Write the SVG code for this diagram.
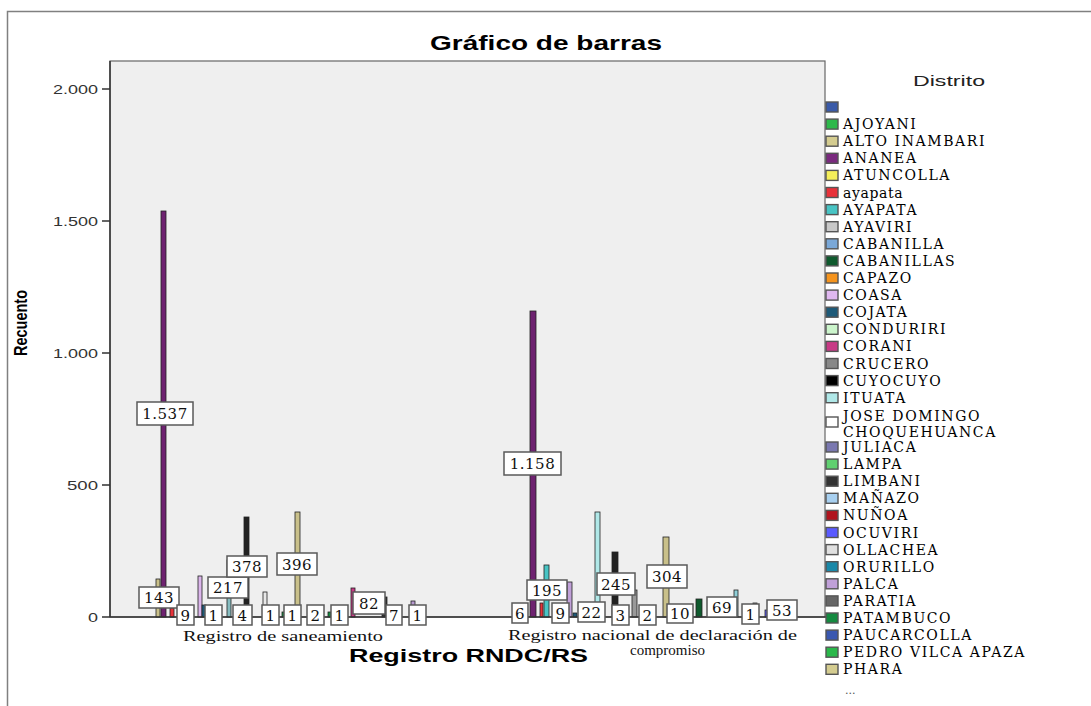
<svg xmlns="http://www.w3.org/2000/svg" width="1091" height="706" viewBox="0 0 1091 706">
<style>
.ttl{font-family:"Liberation Sans",Arial,sans-serif;font-weight:bold;fill:#000}
.tick{font-family:"Liberation Sans",Arial,sans-serif;font-size:13px;fill:#333}
.cat{font-family:"Liberation Serif","Times New Roman",serif;font-size:14px;fill:#111}
.lg{font-family:"DejaVu Serif","Liberation Serif",serif;font-size:14px;fill:#000;letter-spacing:1.6px}
.bar{stroke:#222;stroke-width:0.8}
.sw{stroke:#555;stroke-width:1.4}
.lb rect{fill:#fff;stroke:#5a5a5a;stroke-width:1.5}
.lb text{font-family:"DejaVu Serif","Liberation Serif",serif;font-size:15px;fill:#111;text-anchor:middle;letter-spacing:0.5px}
</style>
<rect x="0" y="0" width="1091" height="706" fill="#fff"/>
<path d="M7.5 706 V11.5 H1091" fill="none" stroke="#808080" stroke-width="1.5"/>
<g id="title"><text class="ttl" x="430" y="50" font-size="21" textLength="232" lengthAdjust="spacingAndGlyphs">Gráfico de barras</text></g>
<g id="plot">
<rect x="110" y="61" width="715" height="556" fill="#efefef" stroke="#666" stroke-width="1.2"/>
</g>
<g id="yaxis">
<line x1="110" y1="61" x2="110" y2="617" stroke="#333" stroke-width="1.5"/>
<path d="M102 89H110M102 221H110M102 353H110M102 485H110M102 617H110" stroke="#333" stroke-width="1.5"/>
<text class="tick" x="53" y="94" textLength="45" lengthAdjust="spacingAndGlyphs">2.000</text>
<text class="tick" x="53" y="226" textLength="45" lengthAdjust="spacingAndGlyphs">1.500</text>
<text class="tick" x="53" y="358" textLength="45" lengthAdjust="spacingAndGlyphs">1.000</text>
<text class="tick" x="67" y="490" textLength="31" lengthAdjust="spacingAndGlyphs">500</text>
<text class="tick" x="88" y="622" textLength="10" lengthAdjust="spacingAndGlyphs">0</text>
<text class="ttl" font-size="18" text-anchor="middle" textLength="66" lengthAdjust="spacingAndGlyphs" transform="translate(27,323) rotate(-90)">Recuento</text>
</g>
<g id="bars-saneamiento">
<rect class="bar" x="156" y="579" width="4" height="38" fill="#c9c08a"/>
<rect class="bar" x="161" y="211" width="5" height="406" fill="#6e2270"/>
<rect class="bar" x="170" y="608" width="4" height="9" fill="#e8323a"/>
<rect class="bar" x="198" y="576" width="4" height="41" fill="#dcb6ec"/>
<rect class="bar" x="202" y="605" width="4" height="12" fill="#1e5a78"/>
<rect class="bar" x="227" y="560" width="4" height="57" fill="#86bcc0"/>
<rect class="bar" x="244" y="517" width="5" height="100" fill="#222"/>
<rect class="bar" x="263" y="592" width="4" height="25" fill="#e8e8e8"/>
<rect class="bar" x="282" y="612" width="3" height="5" fill="#158a40"/>
<rect class="bar" x="295" y="512" width="5" height="105" fill="#c9c08a"/>
<rect class="bar" x="328" y="612" width="3" height="5" fill="#158a40"/>
<rect class="bar" x="351" y="588" width="4" height="29" fill="#c83a86"/>
<rect class="bar" x="382" y="597" width="5" height="20" fill="#333"/>
<rect class="bar" x="411" y="601" width="4" height="16" fill="#b89ad0"/>
</g>
<g id="bars-rndc">
<rect class="bar" x="530" y="311" width="6" height="306" fill="#6e2270"/>
<rect class="bar" x="540" y="603" width="3" height="14" fill="#e8323a"/>
<rect class="bar" x="544" y="565" width="5" height="52" fill="#48c4c4"/>
<rect class="bar" x="567" y="582" width="5" height="35" fill="#c0a0d8"/>
<rect class="bar" x="573" y="613" width="4" height="4" fill="#1e5a78"/>
<rect class="bar" x="595" y="512" width="5" height="105" fill="#b0e8e8"/>
<rect class="bar" x="612" y="552" width="6" height="65" fill="#222"/>
<rect class="bar" x="632" y="590" width="5" height="27" fill="#999"/>
<rect class="bar" x="663" y="537" width="6" height="80" fill="#c9c08a"/>
<rect class="bar" x="696" y="599" width="6" height="18" fill="#0f5a2e"/>
<rect class="bar" x="734" y="590" width="4" height="27" fill="#8fcfd8"/>
<rect class="bar" x="753" y="603" width="4" height="14" fill="#555"/>
<rect class="bar" x="765" y="610" width="3" height="7" fill="#5a5aff"/>
</g>
<g id="xaxis">
<line x1="110" y1="617" x2="826" y2="617" stroke="#333" stroke-width="1.5"/>
<text class="cat" x="183" y="641" textLength="200" lengthAdjust="spacingAndGlyphs">Registro de saneamiento</text>
<text class="cat" x="508" y="640" textLength="289" lengthAdjust="spacingAndGlyphs">Registro nacional de declaración de</text>
<text class="cat" x="630" y="655" textLength="75" lengthAdjust="spacingAndGlyphs">compromiso</text>
<text class="ttl" x="349" y="662" font-size="19" textLength="239" lengthAdjust="spacingAndGlyphs">Registro RNDC/RS</text>
</g>
<g id="labels" class="lb">
<rect x="137" y="402" width="56" height="23"/><text x="165" y="419">1.537</text>
<rect x="139" y="587" width="40" height="21"/><text x="159" y="603">143</text>
<rect x="177" y="605" width="17" height="20"/><text x="185.5" y="620.5">9</text>
<rect x="205" y="605" width="17" height="20"/><text x="213.5" y="620.5">1</text>
<rect x="208" y="577" width="40" height="21"/><text x="228" y="593">217</text>
<rect x="233" y="605" width="19" height="20"/><text x="242.5" y="620.5">4</text>
<rect x="227" y="556" width="40" height="21"/><text x="247" y="572">378</text>
<rect x="262" y="605" width="17" height="20"/><text x="270.5" y="620.5">1</text>
<rect x="277" y="553" width="40" height="22"/><text x="297" y="569.5">396</text>
<rect x="284" y="605" width="17" height="20"/><text x="292.5" y="620.5">1</text>
<rect x="307" y="605" width="17" height="20"/><text x="315.5" y="620.5">2</text>
<rect x="331" y="605" width="17" height="20"/><text x="339.5" y="620.5">1</text>
<rect x="353" y="592" width="32" height="22"/><text x="369" y="608.5">82</text>
<rect x="386" y="605" width="16" height="20"/><text x="394" y="620.5">7</text>
<rect x="409" y="605" width="17" height="20"/><text x="417.5" y="620.5">1</text>
<rect x="504" y="452" width="57" height="23"/><text x="532.5" y="469">1.158</text>
<rect x="512" y="603" width="16" height="20"/><text x="520" y="618.5">6</text>
<rect x="527" y="580" width="40" height="20"/><text x="547" y="595.5">195</text>
<rect x="552" y="603" width="17" height="20"/><text x="560.5" y="618.5">9</text>
<rect x="578" y="602" width="27" height="20"/><text x="591.5" y="617.5">22</text>
<rect x="597" y="573" width="38" height="22"/><text x="616" y="589.5">245</text>
<rect x="612" y="605" width="17" height="20"/><text x="620.5" y="620.5">3</text>
<rect x="639" y="605" width="17" height="20"/><text x="647.5" y="620.5">2</text>
<rect x="647" y="565" width="40" height="23"/><text x="667" y="582">304</text>
<rect x="667" y="604" width="26" height="19"/><text x="680" y="619">10</text>
<rect x="707" y="597" width="30" height="20"/><text x="722" y="612.5">69</text>
<rect x="742" y="604" width="17" height="20"/><text x="750.5" y="619.5">1</text>
<rect x="767" y="600" width="30" height="20"/><text x="782" y="615.5">53</text>
</g>
<g id="legend">
<text x="913" y="86" font-family="Liberation Sans, Arial, sans-serif" font-size="15" fill="#222" textLength="72" lengthAdjust="spacingAndGlyphs">Distrito</text>
<g id="lg0"><rect class="sw" x="826" y="102" width="12" height="10" fill="#3a5aa8"/></g>
<g id="lg1"><rect class="sw" x="826" y="119.1" width="12" height="10" fill="#2db84a"/><text class="lg" x="843" y="129.1">AJOYANI</text></g>
<g id="lg2"><rect class="sw" x="826" y="136.2" width="12" height="10" fill="#d4cc90"/><text class="lg" x="843" y="146.2">ALTO INAMBARI</text></g>
<g id="lg3"><rect class="sw" x="826" y="153.3" width="12" height="10" fill="#7a2a7e"/><text class="lg" x="843" y="163.3">ANANEA</text></g>
<g id="lg4"><rect class="sw" x="826" y="170.4" width="12" height="10" fill="#f5ef5a"/><text class="lg" x="843" y="180.4">ATUNCOLLA</text></g>
<g id="lg5"><rect class="sw" x="826" y="187.5" width="12" height="10" fill="#e8323a"/><text class="lg" x="843" y="197.5" style="letter-spacing:0.6px">ayapata</text></g>
<g id="lg6"><rect class="sw" x="826" y="204.6" width="12" height="10" fill="#48c4c4"/><text class="lg" x="843" y="214.6">AYAPATA</text></g>
<g id="lg7"><rect class="sw" x="826" y="221.7" width="12" height="10" fill="#c8c8c8"/><text class="lg" x="843" y="231.7">AYAVIRI</text></g>
<g id="lg8"><rect class="sw" x="826" y="238.8" width="12" height="10" fill="#7aa8d8"/><text class="lg" x="843" y="248.8">CABANILLA</text></g>
<g id="lg9"><rect class="sw" x="826" y="255.9" width="12" height="10" fill="#0f5a2e"/><text class="lg" x="843" y="265.9">CABANILLAS</text></g>
<g id="lg10"><rect class="sw" x="826" y="273" width="12" height="10" fill="#f5941e"/><text class="lg" x="843" y="283">CAPAZO</text></g>
<g id="lg11"><rect class="sw" x="826" y="290.1" width="12" height="10" fill="#e0b8f0"/><text class="lg" x="843" y="300.1">COASA</text></g>
<g id="lg12"><rect class="sw" x="826" y="307.2" width="12" height="10" fill="#1e5a78"/><text class="lg" x="843" y="317.2">COJATA</text></g>
<g id="lg13"><rect class="sw" x="826" y="324.3" width="12" height="10" fill="#ccf5cc"/><text class="lg" x="843" y="334.3">CONDURIRI</text></g>
<g id="lg14"><rect class="sw" x="826" y="341.4" width="12" height="10" fill="#c83a86"/><text class="lg" x="843" y="351.4">CORANI</text></g>
<g id="lg15"><rect class="sw" x="826" y="358.5" width="12" height="10" fill="#888"/><text class="lg" x="843" y="368.5">CRUCERO</text></g>
<g id="lg16"><rect class="sw" x="826" y="375.6" width="12" height="10" fill="#000"/><text class="lg" x="843" y="385.6">CUYOCUYO</text></g>
<g id="lg17"><rect class="sw" x="826" y="392.7" width="12" height="10" fill="#b0e8e8"/><text class="lg" x="843" y="402.7">ITUATA</text></g>
<g id="lg18"><rect class="sw" x="826" y="417" width="12" height="10" fill="#fff"/><text class="lg" x="843" y="421">JOSE DOMINGO</text><text class="lg" x="843" y="437">CHOQUEHUANCA</text></g>
<g id="lg19"><rect class="sw" x="826" y="442" width="12" height="10" fill="#7a78b0"/><text class="lg" x="843" y="452">JULIACA</text></g>
<g id="lg20"><rect class="sw" x="826" y="459.1" width="12" height="10" fill="#60d070"/><text class="lg" x="843" y="469.1">LAMPA</text></g>
<g id="lg21"><rect class="sw" x="826" y="476.2" width="12" height="10" fill="#333"/><text class="lg" x="843" y="486.2">LIMBANI</text></g>
<g id="lg22"><rect class="sw" x="826" y="493.3" width="12" height="10" fill="#a8d0f0"/><text class="lg" x="843" y="503.3">MAÑAZO</text></g>
<g id="lg23"><rect class="sw" x="826" y="510.4" width="12" height="10" fill="#b0141e"/><text class="lg" x="843" y="520.4">NUÑOA</text></g>
<g id="lg24"><rect class="sw" x="826" y="527.5" width="12" height="10" fill="#5a5aff"/><text class="lg" x="843" y="537.5">OCUVIRI</text></g>
<g id="lg25"><rect class="sw" x="826" y="544.6" width="12" height="10" fill="#e0e0e0"/><text class="lg" x="843" y="554.6">OLLACHEA</text></g>
<g id="lg26"><rect class="sw" x="826" y="561.7" width="12" height="10" fill="#1a88a8"/><text class="lg" x="843" y="571.7">ORURILLO</text></g>
<g id="lg27"><rect class="sw" x="826" y="578.8" width="12" height="10" fill="#c0a0d8"/><text class="lg" x="843" y="588.8">PALCA</text></g>
<g id="lg28"><rect class="sw" x="826" y="595.9" width="12" height="10" fill="#666"/><text class="lg" x="843" y="605.9">PARATIA</text></g>
<g id="lg29"><rect class="sw" x="826" y="613" width="12" height="10" fill="#158a40"/><text class="lg" x="843" y="623">PATAMBUCO</text></g>
<g id="lg30"><rect class="sw" x="826" y="630.1" width="12" height="10" fill="#3a58b0"/><text class="lg" x="843" y="640.1">PAUCARCOLLA</text></g>
<g id="lg31"><rect class="sw" x="826" y="647.2" width="12" height="10" fill="#2ab84a"/><text class="lg" x="843" y="657.2">PEDRO VILCA APAZA</text></g>
<g id="lg32"><rect class="sw" x="826" y="664.3" width="12" height="10" fill="#d4cc90"/><text class="lg" x="843" y="674.3">PHARA</text></g>
<text x="845" y="694" font-family="DejaVu Serif, serif" font-size="11" fill="#555">...</text>
</g>
</svg>
